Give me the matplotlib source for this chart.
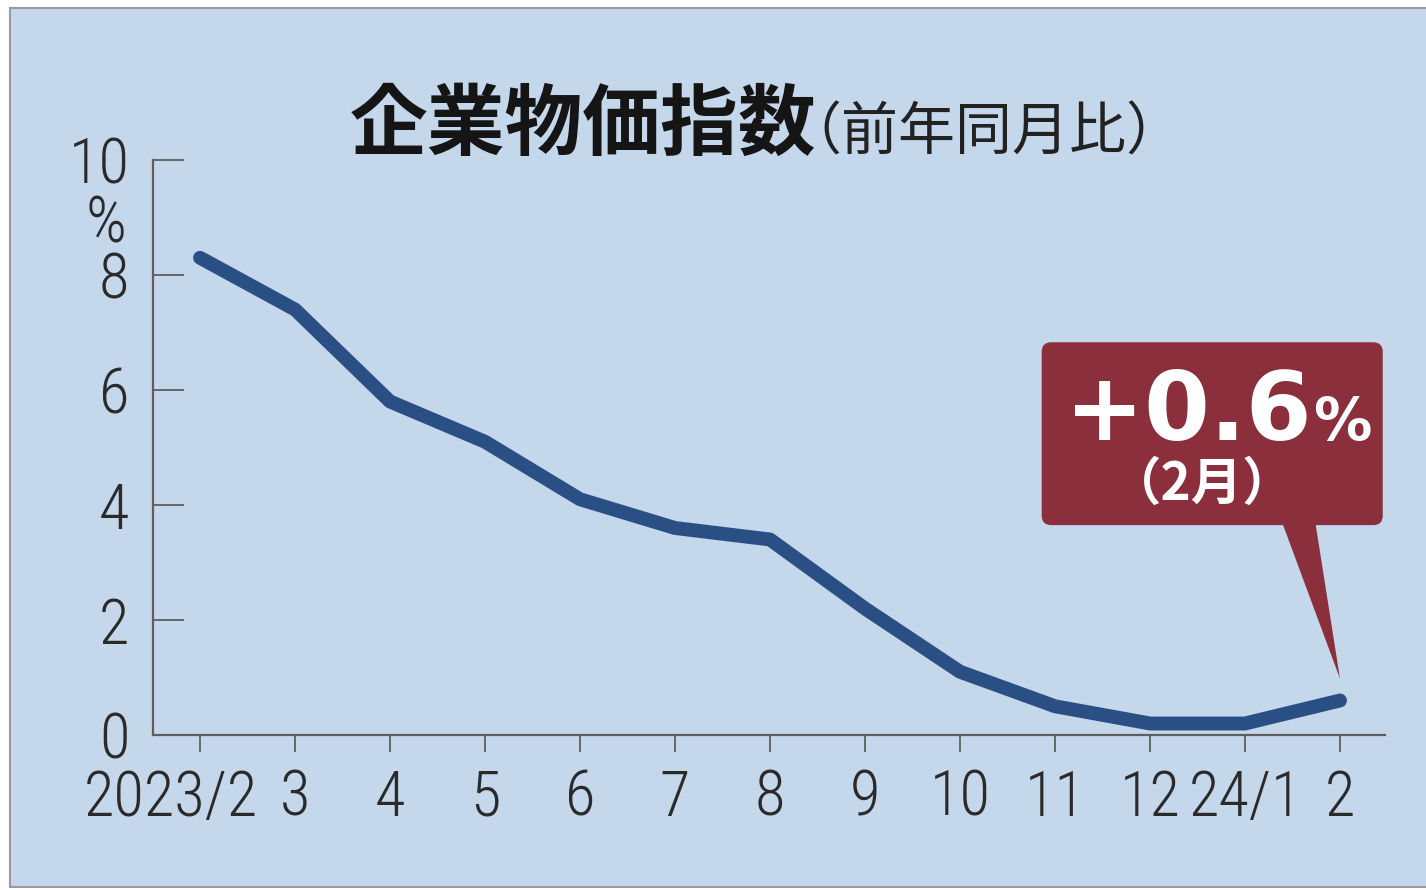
import matplotlib
matplotlib.use('Agg')
import matplotlib.pyplot as plt
from matplotlib.patches import Rectangle, FancyBboxPatch, Polygon
from matplotlib.transforms import ScaledTranslation
import numpy as np

months = ["2023/2", "3", "4", "5", "6", "7", "8", "9", "10", "11", "12", "24/1", "2"]
cgpi_yoy = [8.3, 7.4, 5.8, 5.1, 4.1, 3.6, 3.4, 2.2, 1.1, 0.5, 0.2, 0.2, 0.6]
y_ticks = [0, 2, 4, 6, 8, 10]
title_main = "企業物価指数"
title_sub = "（前年同月比）"
callout_value = "+0.6"
callout_unit = "%"
callout_month = "（2月）"

W, H = 1426, 890
fig = plt.figure(figsize=(W / 100, H / 100), dpi=100)
fig.patch.set_facecolor('white')
bg = '#C5D7EB'
fig.add_artist(Rectangle((10 / W, 3 / H), (W + 20) / W, 879 / H, transform=fig.transFigure,
                         facecolor=bg, edgecolor='#9a9a9a', lw=1.5, zorder=0))

NARROW = ['Roboto Condensed', 'Archivo Narrow', 'DejaVu Sans']
CJK = ['Noto Sans CJK JP', 'DejaVu Sans']

ax = fig.add_axes([153 / W, 1 - 735 / H, (1385 - 153) / W, (735 - 160) / H])
ax.set_facecolor('none')
x = np.arange(len(months))
ax.plot(x, cgpi_yoy, color='#2A4F84', lw=10, solid_capstyle='round', solid_joinstyle='round', zorder=3)

ax.set_xlim(-47 / 95, len(months) - 1 + 45 / 95)
ax.set_ylim(0, 10)
for s in ['top', 'right']:
    ax.spines[s].set_visible(False)
for s in ['left', 'bottom']:
    ax.spines[s].set_color('#5e5e5e')
    ax.spines[s].set_linewidth(1.6)

ax.set_yticks(y_ticks)
ax.set_xticks(x)
ax.tick_params(axis='y', direction='in', length=22, width=1.3, color='#5e5e5e', pad=17,
               labelsize=45, labelcolor='#2a2a2a')
ax.tick_params(axis='x', direction='out', length=12, width=1.3, color='#5e5e5e', pad=12,
               labelsize=45, labelcolor='#2a2a2a')
ax.set_yticklabels([str(v) for v in y_ticks], fontfamily=NARROW, fontweight='light')
ax.set_xticklabels(months, fontfamily=NARROW, fontweight='light')

# first x label sits left of its tick in the reference
lab0 = ax.xaxis.get_major_ticks()[0].label1
lab0.set_transform(lab0.get_transform() + ScaledTranslation(-0.29, 0, fig.dpi_scale_trans))

# % unit under the top tick label
ax.text(-0.985, 8.88, "%", fontsize=46, fontfamily=NARROW, fontweight='light', color='#2a2a2a',
        ha='center', va='center', clip_on=False)

# Title
fig.text(350 / W, 1 - 126 / H, title_main, fontsize=56, fontweight='bold', fontfamily=CJK,
         color='#151515', ha='left', va='center')
fig.text(784 / W, 1 - 133 / H, title_sub, fontsize=41, fontfamily=CJK,
         color='#222222', ha='left', va='center')

# Callout
box_col = '#8A2F3B'
box = FancyBboxPatch((8.86, 3.65), 12.45 - 8.86, 6.83 - 3.65,
                     boxstyle='round,pad=0,rounding_size=0.1', mutation_aspect=1.65,
                     facecolor=box_col, edgecolor='none', zorder=5, clip_on=False)
ax.add_patch(box)
tip_x, tip_y = x[-1], cgpi_yoy[-1] + 0.38
ax.add_patch(Polygon([(11.39, 3.7), (11.74, 3.7), (tip_x, tip_y)], closed=True,
                     facecolor=box_col, edgecolor='none', zorder=5, clip_on=False))
ax.text(11.7, 5.13, callout_value, fontsize=68, fontweight='bold', fontfamily='DejaVu Sans',
        color='white', ha='right', va='baseline', zorder=6)
ax.text(11.72, 5.13, callout_unit, fontsize=42, fontweight='bold', fontfamily='DejaVu Sans',
        color='white', ha='left', va='baseline', zorder=6)
ax.text(10.55, 4.36, callout_month, fontsize=37, fontweight='bold', fontfamily=CJK,
        color='white', ha='center', va='center', zorder=6)

fig.savefig('out.png', dpi=100, facecolor='white')
